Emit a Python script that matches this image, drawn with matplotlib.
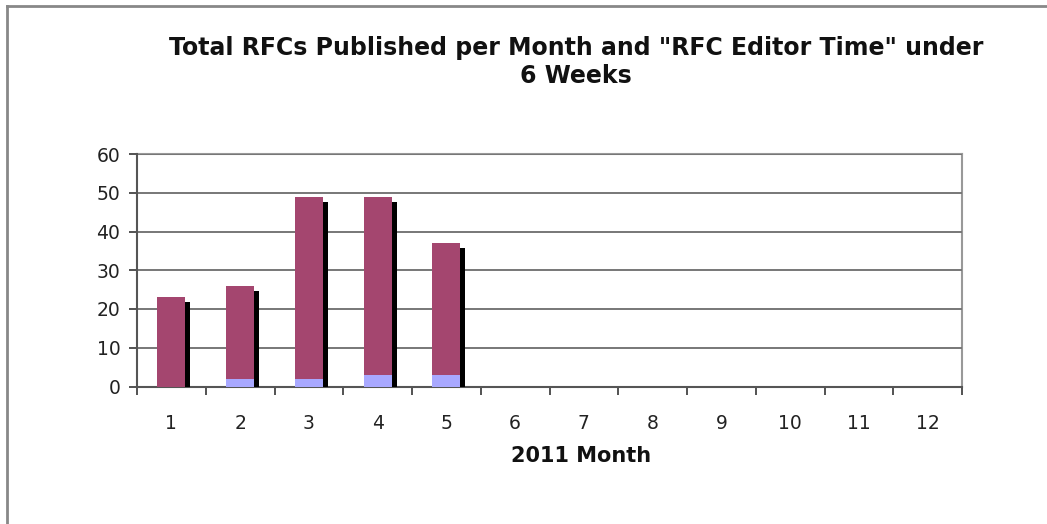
import matplotlib
matplotlib.use("Agg")
import matplotlib.pyplot as plt
import matplotlib.patheffects as pe
from matplotlib.lines import Line2D

months = [str(m) for m in range(1, 13)]
total_rfcs = [23, 26, 49, 49, 37, 0, 0, 0, 0, 0, 0, 0]
under_6_weeks = [0, 2, 2, 3, 3, 0, 0, 0, 0, 0, 0, 0]
y_ticks = [0, 10, 20, 30, 40, 50, 60]

W, H = 1047, 524
fig = plt.figure(figsize=(W / 100, H / 100), dpi=100)
ax = fig.add_axes([137 / W, 1 - 386.5 / H, (962 - 137) / W, (386.5 - 154) / H])

x = list(range(len(months)))
bw = 0.41
purple = "#A4466F"
blue = "#A8A8FF"

bars = ax.bar(x, total_rfcs, width=bw, color=purple, zorder=3)
for b in bars:
    b.set_path_effects([pe.SimplePatchShadow(offset=(3.6, -3.6), shadow_rgbFace="black", alpha=1.0), pe.Normal()])
ax.bar(x, under_6_weeks, width=bw, color=blue, zorder=4)

ax.set_xlim(-0.5, len(months) - 0.5)
ax.set_ylim(0, 60)
ax.set_yticks(y_ticks)
ax.set_xticks([i + 0.5 for i in range(-1, len(months))], minor=False)
ax.set_xticklabels([])
ax.set_xticks(x, minor=True)
ax.set_xticklabels(months, minor=True, fontsize=13.5, color="#222222")
ax.tick_params(axis="x", which="minor", length=0, pad=20)
ax.tick_params(axis="x", which="major", length=6, width=1.3, color="#444444", direction="out")
ax.tick_params(axis="y", length=6, width=1.3, color="#444444", labelsize=13.5, labelcolor="#222222", pad=6)
ax.yaxis.grid(True, color="#777777", linewidth=1.4, zorder=1)
ax.set_axisbelow(True)
for s in ["left", "bottom"]:
    ax.spines[s].set_color("#555555")
    ax.spines[s].set_linewidth(1.5)
for s in ["top", "right"]:
    ax.spines[s].set_color("#999999")
    ax.spines[s].set_linewidth(1.5)
    ax.spines[s].set_zorder(0)

fig.text(576 / W, 1 - 62 / H, "Total RFCs Published per Month and \"RFC Editor Time\" under\n6 Weeks",
         ha="center", va="center", fontsize=17, fontweight="bold", linespacing=1.2, color="#111111")
fig.text(581 / W, 1 - 456 / H, "2011 Month", ha="center", va="center",
         fontsize=15, fontweight="bold", color="#111111")

fig.add_artist(Line2D([7 / W, 1.0], [1 - 6 / H, 1 - 6 / H], transform=fig.transFigure, color="#888888", linewidth=2))
fig.add_artist(Line2D([7 / W, 7 / W], [1 - 6 / H, 0.0], transform=fig.transFigure, color="#888888", linewidth=2))

fig.savefig("out.png", dpi=100)
